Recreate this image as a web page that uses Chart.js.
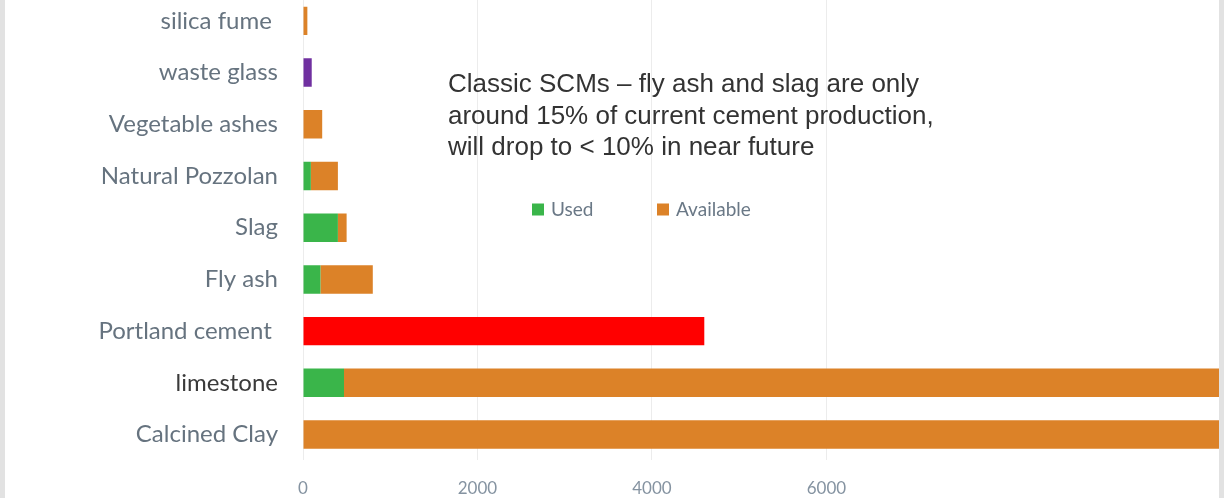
<!DOCTYPE html>
<html>
<head>
<meta charset="utf-8">
<script src="https://cdn.jsdelivr.net/npm/chart.js@4"></script>
<style>
  html, body { margin: 0; padding: 0; width: 1224px; height: 498px; overflow: hidden; background: #e2e2e2; }
  #wrap { position: absolute; left: 5px; top: -5px; width: 1214px; height: 521px; background: #ffffff; }
</style>
</head>
<body>
<div id="wrap"><canvas id="c" width="1214" height="521"></canvas></div>
<script>
// Materials, top to bottom (units: Mt / year)
const categories = ['silica fume ', 'waste glass', 'Vegetable ashes', 'Natural Pozzolan', 'Slag', 'Fly ash', 'Portland cement ', 'limestone', 'Calcined Clay'];
const usedValues      = [0, 100, 0, 90, 400, 200, 4600, 470, 0];
const availableValues = [50, 0, 220, 310, 100, 600, 0, 10030, 10500];
const usedColors = ['#3ab54a', '#7030a0', '#3ab54a', '#3ab54a', '#3ab54a', '#3ab54a', '#ff0000', '#3ab54a', '#3ab54a'];
const seriesNames = ['Used', 'Available'];
const seriesColors = ['#3ab54a', '#dc8228'];
const xTicks = [0, 2000, 4000, 6000];
const xMax = 10500;
const noteLines = [
  'Classic SCMs \u2013 fly ash and slag are only',
  'around 15% of current cement production,',
  'will drop to < 10% in near future'
];

// Inline legend and note text drawn over the plot
const overlay = {
  id: 'overlay',
  afterDraw(chart) {
    const ctx = chart.ctx;
    ctx.save();
    // legend
    const items = [{ x: 527 }, { x: 652 }];
    ctx.font = '19px Lato';
    ctx.textBaseline = 'middle';
    ctx.textAlign = 'left';
    items.forEach((it, i) => {
      ctx.fillStyle = seriesColors[i];
      ctx.fillRect(it.x, 208.5, 12, 12);
      ctx.fillStyle = '#6a7886';
      ctx.fillText(seriesNames[i], it.x + 19, 214.5);
    });
    // note
    ctx.font = '26px "Liberation Sans"';
    ctx.fillStyle = '#333333';
    noteLines.forEach((t, i) => ctx.fillText(t, 443, 90 + i * 31.5));
    ctx.restore();
  }
};

const noPad = s => { s.paddingTop = 0; s.paddingBottom = 0; s.paddingLeft = 0; s.paddingRight = 0; };

new Chart(document.getElementById('c'), {
  type: 'bar',
  data: {
    labels: categories,
    datasets: [
      { label: seriesNames[0], data: usedValues, backgroundColor: usedColors, barPercentage: 0.55, categoryPercentage: 1 },
      { label: seriesNames[1], data: availableValues, backgroundColor: seriesColors[1], barPercentage: 0.55, categoryPercentage: 1 }
    ]
  },
  options: {
    indexAxis: 'y',
    responsive: false,
    animation: false,
    devicePixelRatio: 1,
    layout: { padding: 0 },
    plugins: { legend: { display: false }, tooltip: { enabled: false } },
    scales: {
      x: {
        stacked: true,
        min: 0,
        max: xMax,
        afterBuildTicks: axis => { axis.ticks = xTicks.map(v => ({ value: v })); },
        afterFit: noPad,
        grid: { color: '#ececec', drawTicks: false },
        border: { display: false },
        ticks: {
          color: '#8593a1', font: { family: 'Lato', size: 17 }, padding: 17.6, maxRotation: 0,
          callback: v => String(v)
        }
      },
      y: {
        stacked: true,
        afterFit: s => { s.width = 298; noPad(s); },
        grid: { display: false, drawTicks: false },
        border: { display: false },
        ticks: {
          padding: 25,
          font: { family: 'Lato', size: 24 },
          color: c => (c.index === 7 ? '#3a3a3a' : '#66737f')
        }
      }
    }
  },
  plugins: [overlay]
});
</script>
</body>
</html>
